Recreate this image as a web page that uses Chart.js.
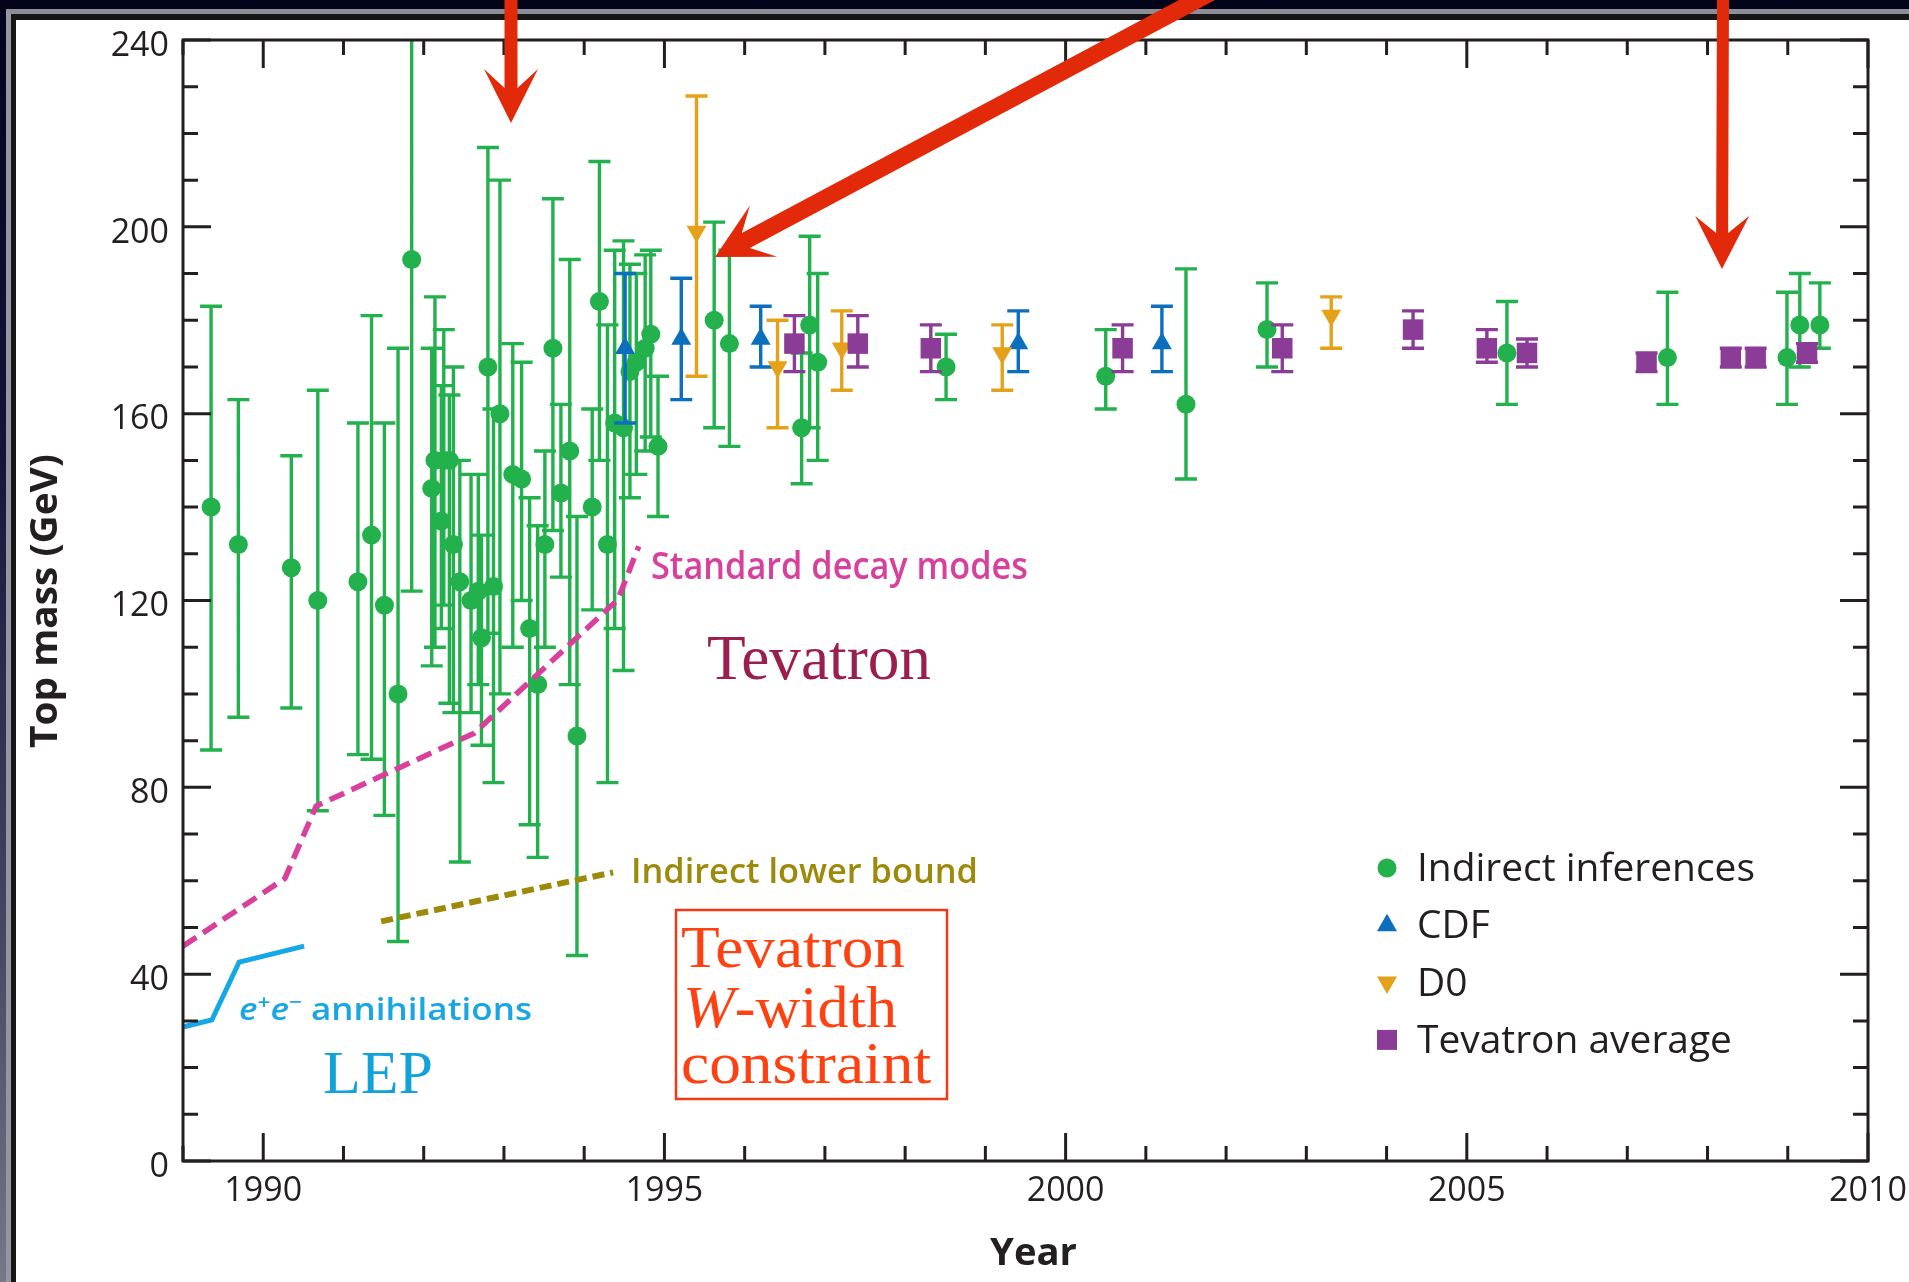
<!DOCTYPE html>
<html>
<head>
<meta charset="utf-8">
<title>Top quark mass vs year</title>
<script src="https://cdn.jsdelivr.net/npm/chart.js@4.4.1/dist/chart.umd.min.js"></script>
<style>
  html, body { margin: 0; padding: 0; }
  body {
    width: 1909px; height: 1282px; overflow: hidden; position: relative;
    background: linear-gradient(to bottom, #03031a 0%, #14143a 35%, #4a4a62 75%, #77778a 100%);
  }
  .frame {
    position: absolute; left: 6px; top: 9px; width: 1903px; height: 1273px; box-sizing: border-box;
    background: #161616; border-top: 5px solid #8e8e98; border-left: 5px solid #9696a2;
  }
  .panel { position: absolute; left: 16px; top: 20px; width: 1893px; height: 1262px; background: #fff; }
  canvas { position: absolute; left: 0; top: 0; }
</style>
</head>
<body>
<div class="frame"></div>
<div class="panel"></div>
<canvas id="topChart" width="1909" height="1282"></canvas>
<script>
// indirect (electroweak fit) inferences: year, central mass, lower and upper error bar ends (GeV)
const indirectYear = [1989.35, 1989.69, 1990.35, 1990.68, 1991.18, 1991.35, 1991.51, 1991.68, 1991.85,
  1992.10, 1992.14, 1992.22, 1992.25, 1992.32, 1992.37, 1992.45, 1992.59, 1992.68, 1992.72, 1992.80, 1992.87, 1992.95,
  1993.11, 1993.22, 1993.32, 1993.42, 1993.51, 1993.61, 1993.71, 1993.82, 1993.91,
  1994.10, 1994.19, 1994.29, 1994.38, 1994.49, 1994.57, 1994.65, 1994.76, 1994.83, 1994.92,
  1995.62, 1995.81, 1996.71, 1996.81, 1996.91, 1998.51, 2000.50, 2001.50, 2002.51, 2005.50, 2007.50, 2008.99, 2009.15, 2009.40];
const indirectMass = [140, 132, 127, 120, 124, 134, 119, 100, 193,
  144, 150, 137, 150, 150, 132, 124, 120, 122, 112, 170, 123, 160,
  147, 146, 114, 102, 132, 174, 143, 152, 91,
  140, 184, 132, 158, 157, 169, 171, 174, 177, 153,
  180, 175, 157, 179, 171, 170, 168, 162, 178, 173, 172, 172, 179, 179];
const indirectLow = [88, 95, 97, 75, 87, 86, 74, 47, 122,
  106, 110, 114, 119, 98, 96, 64, 96, 102, 89, 113, 81, 100,
  110, 120, 72, 65, 110, 135, 125, 102, 44,
  118, 150, 81, 114, 105, 142, 147, 152, 155, 138,
  157, 153, 145, 157, 150, 163, 161, 146, 170, 162, 162, 162, 170, 174];
const indirectHigh = [183, 163, 151, 165, 158, 181, 158, 174, 264,
  174, 185, 166, 178, 164, 170, 150, 147, 147, 134, 217, 161, 210,
  175, 171, 142, 136, 152, 206, 162, 193, 138,
  161, 214, 179, 195, 197, 192, 190, 194, 195, 168,
  201, 195, 173, 198, 190, 177, 178, 191, 188, 184, 186, 186, 190, 188];

// direct measurements
const cdfYear = [1994.51, 1995.21, 1996.20, 1999.41, 2001.20];
const cdfMass = [174, 176, 176, 175, 175];
const cdfLow = [158, 163, 170, 169, 169];
const cdfHigh = [190, 189, 183, 182, 183];

const d0Year = [1995.40, 1996.41, 1997.21, 1999.21, 2003.31];
const d0Mass = [199, 170, 174, 173, 181];
const d0Low = [168, 157, 165, 165, 174];
const d0High = [228, 180, 182, 179, 185];

const avgYear = [1996.62, 1997.41, 1998.32, 2000.71, 2002.70, 2004.33, 2005.25, 2005.75, 2007.24, 2008.29, 2008.60, 2009.24];
const avgMass = [175, 175, 174, 174, 174, 178, 174, 173, 171, 172, 172, 173];
const avgLow = [169, 170, 169, 169, 169, 174, 171, 170, 169, 170, 170, 171];
const avgHigh = [181, 181, 179, 179, 179, 182, 178, 176, 173, 174, 174, 175];

// lower bounds
const decayYear = [1989.0, 1990.27, 1990.66, 1992.63, 1994.42, 1994.68];
const decayMass = [46, 60.5, 76, 91.6, 120.2, 131.6];
const lepYear = [1989.0, 1989.36, 1989.70, 1990.51];
const lepMass = [28.7, 30.2, 42.6, 46.0];
const boundYear = [1991.47, 1994.36];
const boundMass = [51.3, 61.8];

// axes
const yearTicks = [1990, 1995, 2000, 2005, 2010];
const massTicks = [0, 40, 80, 120, 160, 200, 240];
const yearMinorStep = 1;
const massMinorStep = 10;

const green = '#22b14c', blue = '#0b6fbd', orange = '#e5a11a', purple = '#8b3c97';
const ink = '#231f20';

function pts(xs, ys) {
  return xs.map((x, i) => ({ x, y: ys[i] }));
}

// draw text squeezed/stretched to a given width (left edge at x, baseline at y)
function fitText(ctx, text, x, y, font, width, color) {
  ctx.save();
  ctx.font = font;
  ctx.fillStyle = color;
  ctx.textAlign = 'left';
  ctx.textBaseline = 'alphabetic';
  const w = ctx.measureText(text).width;
  ctx.translate(x, y);
  ctx.scale(width / w, 1);
  ctx.fillText(text, 0, 0);
  ctx.restore();
}

// same, for a line made of several differently styled runs
function fitRuns(ctx, runs, x, y, width, color) {
  ctx.save();
  ctx.fillStyle = color;
  ctx.textAlign = 'left';
  ctx.textBaseline = 'alphabetic';
  let total = 0;
  runs.forEach(r => { ctx.font = r.font; r.w = ctx.measureText(r.text).width; total += r.w; });
  ctx.translate(x, y);
  ctx.scale(width / total, 1);
  let cx = 0;
  runs.forEach(r => { ctx.font = r.font; ctx.fillText(r.text, cx, r.dy || 0); cx += r.w; });
  ctx.restore();
}

// filled arrow with a swept-back head
function arrow(ctx, tail, tip, shaft, headLen, headW, notch) {
  const dx = tip[0] - tail[0], dy = tip[1] - tail[1];
  const len = Math.hypot(dx, dy);
  const ux = dx / len, uy = dy / len, nx = -uy, ny = ux;
  const at = (d, s) => [tip[0] - ux * d + nx * s, tip[1] - uy * d + ny * s];
  const outline = [
    [tail[0] + nx * shaft / 2, tail[1] + ny * shaft / 2],
    at(notch, shaft / 2), at(headLen, headW / 2), tip,
    at(headLen, -headW / 2), at(notch, -shaft / 2),
    [tail[0] - nx * shaft / 2, tail[1] - ny * shaft / 2]
  ];
  ctx.beginPath();
  outline.forEach((p, i) => i ? ctx.lineTo(p[0], p[1]) : ctx.moveTo(p[0], p[1]));
  ctx.closePath();
  ctx.fill();
}

function legendMarker(ctx, shape, x, y, color) {
  ctx.fillStyle = color;
  ctx.beginPath();
  if (shape === 'circle') {
    ctx.arc(x, y, 9.5, 0, Math.PI * 2);
  } else if (shape === 'rect') {
    ctx.rect(x - 10, y - 10, 20, 20);
  } else if (shape === 'up') {
    ctx.moveTo(x, y - 11.5); ctx.lineTo(x + 10, y + 6); ctx.lineTo(x - 10, y + 6);
  } else {
    ctx.moveTo(x, y + 11.5); ctx.lineTo(x + 10, y - 6); ctx.lineTo(x - 10, y - 6);
  }
  ctx.fill();
}

// vertical error bars with caps, drawn just before each dataset's markers
const errorBars = {
  id: 'errorBars',
  beforeDatasetDraw(chart, args) {
    const ds = chart.data.datasets[args.index];
    if (!ds.errLow) return;
    const { ctx, chartArea: a, scales: { x, y } } = chart;
    ctx.save();
    ctx.beginPath();
    ctx.rect(a.left, a.top, a.right - a.left, a.bottom - a.top);
    ctx.clip();
    ctx.strokeStyle = ds.backgroundColor;
    ctx.lineWidth = 3.4;
    ctx.beginPath();
    ds.data.forEach((p, i) => {
      const px = x.getPixelForValue(p.x);
      const lo = y.getPixelForValue(ds.errLow[i]);
      const hi = y.getPixelForValue(ds.errHigh[i]);
      ctx.moveTo(px, lo); ctx.lineTo(px, hi);
      ctx.moveTo(px - 11, lo); ctx.lineTo(px + 11, lo);
      ctx.moveTo(px - 11, hi); ctx.lineTo(px + 11, hi);
    });
    ctx.stroke();
    ctx.restore();
  }
};

// boxed frame with inward major/minor ticks on all four sides
const frameTicks = {
  id: 'frameTicks',
  afterDatasetsDraw(chart) {
    const { ctx, chartArea: a, scales: { x, y } } = chart;
    ctx.save();
    ctx.strokeStyle = ink;
    ctx.lineWidth = 3;
    ctx.beginPath();
    for (let v = y.min; v <= y.max; v += massMinorStep) {
      const py = y.getPixelForValue(v);
      const len = massTicks.includes(v) ? 28 : 15;
      ctx.moveTo(a.left, py); ctx.lineTo(a.left + len, py);
      ctx.moveTo(a.right, py); ctx.lineTo(a.right - len, py);
    }
    for (let v = Math.ceil(x.min); v <= x.max; v += yearMinorStep) {
      const px = x.getPixelForValue(v);
      const len = yearTicks.includes(v) ? 28 : 15;
      ctx.moveTo(px, a.bottom); ctx.lineTo(px, a.bottom - len);
      ctx.moveTo(px, a.top); ctx.lineTo(px, a.top + len);
    }
    ctx.stroke();
    ctx.strokeRect(a.left, a.top, a.right - a.left, a.bottom - a.top);
    ctx.restore();
  }
};

// labels, legend, boxed note, axis titles and the red pointers
const notes = {
  id: 'notes',
  afterDraw(chart) {
    const ctx = chart.ctx;
    const sans = '"Open Sans", "DejaVu Sans", sans-serif';
    const serif = '"Liberation Serif", "DejaVu Serif", serif';

    fitText(ctx, 'Standard decay modes', 651, 579, '600 37px ' + sans, 377, '#d8409b');
    fitText(ctx, 'Tevatron', 707, 679, '63px ' + serif, 224, '#9a1f4e');
    fitText(ctx, 'Indirect lower bound', 631, 883, '600 34px ' + sans, 347, '#9e8a0a');

    fitRuns(ctx, [
      { text: 'e', font: 'italic 600 31px ' + sans },
      { text: '+', font: '600 20px ' + sans, dy: -11 },
      { text: 'e', font: 'italic 600 31px ' + sans },
      { text: '\u2212', font: '600 20px ' + sans, dy: -11 },
      { text: ' annihilations', font: '600 31px ' + sans }
    ], 239, 1020, 293, '#1aa6e2');
    fitText(ctx, 'LEP', 323, 1093, '62px ' + serif, 110, '#12a2da');

    // W-width constraint note
    ctx.save();
    ctx.strokeStyle = '#ee3a16';
    ctx.lineWidth = 2.5;
    ctx.strokeRect(676, 910, 271, 189);
    ctx.restore();
    const red = '#ff4112';
    fitText(ctx, 'Tevatron', 681, 967, '60px ' + serif, 224, red);
    fitRuns(ctx, [
      { text: 'W', font: 'italic 60px ' + serif },
      { text: '-width', font: '60px ' + serif }
    ], 683, 1027, 214, red);
    fitText(ctx, 'constraint', 681, 1083, '60px ' + serif, 250, red);

    // legend built from the data series
    const legendFont = '39px ' + sans;
    ctx.save();
    ctx.font = legendFont;
    const squeeze = 338 / ctx.measureText(chart.data.datasets[0].label).width;
    ctx.restore();
    chart.data.datasets.filter(d => d.legendShape).forEach((d, i) => {
      const base = 881 + i * 57.3;
      legendMarker(ctx, d.legendShape, 1387, base - 13, d.backgroundColor);
      ctx.save();
      ctx.font = legendFont;
      const w = ctx.measureText(d.label).width * squeeze;
      ctx.restore();
      fitText(ctx, d.label, 1417, base, legendFont, w, ink);
    });

    // axis titles
    fitText(ctx, 'Year', 990, 1265, 'bold 37px ' + sans, 87, ink);
    ctx.save();
    ctx.translate(57, 748);
    ctx.rotate(-Math.PI / 2);
    fitText(ctx, 'Top mass (GeV)', 0, 0, 'bold 37px ' + sans, 294, ink);
    ctx.restore();

    // red pointers
    ctx.save();
    ctx.fillStyle = '#e22a0a';
    arrow(ctx, [511, -6], [511, 123], 13, 54, 54, 35);
    arrow(ctx, [1212, -8], [715, 257], 17, 55, 58, 35);
    arrow(ctx, [1723, -6], [1722, 269], 12, 53, 54, 36);
    ctx.restore();
  }
};

const errSeries = (label, xs, ys, lo, hi, color, style, rotation, radius, shape, order) => ({
  type: 'scatter',
  label,
  data: pts(xs, ys),
  errLow: lo,
  errHigh: hi,
  backgroundColor: color,
  borderColor: color,
  pointStyle: style,
  rotation,
  pointRadius: radius,
  pointBorderWidth: 0,
  legendShape: shape,
  order
});

const lineSeries = (xs, ys, color, width, dash) => ({
  type: 'line',
  data: pts(xs, ys),
  borderColor: color,
  borderWidth: width,
  borderDash: dash,
  borderCapStyle: 'butt',
  pointRadius: 0,
  fill: false,
  tension: 0,
  order: 1
});

// keep the plot box exactly where the layout padding puts it
const noEdgePadding = s => {
  s.paddingLeft = 0; s.paddingRight = 0; s.paddingTop = 0; s.paddingBottom = 0;
};

new Chart(document.getElementById('topChart'), {
  type: 'scatter',
  data: {
    datasets: [
      errSeries('Indirect inferences', indirectYear, indirectMass, indirectLow, indirectHigh, green, 'circle', 0, 9.5, 'circle', 5),
      errSeries('CDF', cdfYear, cdfMass, cdfLow, cdfHigh, blue, 'triangle', 0, 11.5, 'up', 4),
      errSeries('D0', d0Year, d0Mass, d0Low, d0High, orange, 'triangle', 180, 11.5, 'down', 3),
      errSeries('Tevatron average', avgYear, avgMass, avgLow, avgHigh, purple, 'rect', 0, 14.5, 'rect', 2),
      lineSeries(decayYear, decayMass, '#d8409b', 5.5, [16, 8]),
      lineSeries(boundYear, boundMass, '#9e8a0a', 6, [12, 6]),
      lineSeries(lepYear, lepMass, '#14a8e6', 5, [])
    ]
  },
  options: {
    responsive: false,
    devicePixelRatio: 1,
    animation: false,
    events: [],
    layout: { padding: { left: 0, top: 40, right: 41, bottom: 0 } },
    plugins: { legend: { display: false }, tooltip: { enabled: false } },
    scales: {
      x: {
        type: 'linear',
        min: 1989,
        max: 2010,
        grid: { display: false, drawTicks: false },
        border: { display: false },
        afterBuildTicks: s => { s.ticks = yearTicks.map(v => ({ value: v })); },
        afterFit: s => { s.height = 121; noEdgePadding(s); },
        ticks: {
          font: { family: 'Open Sans', size: 34 },
          color: ink,
          padding: 10,
          maxRotation: 0,
          autoSkip: false,
          callback: v => String(v)
        }
      },
      y: {
        min: 0,
        max: 240,
        grid: { display: false, drawTicks: false },
        border: { display: false },
        afterBuildTicks: s => { s.ticks = massTicks.map(v => ({ value: v })); },
        afterFit: s => { s.width = 183; noEdgePadding(s); },
        ticks: {
          font: { family: 'Open Sans', size: 34 },
          color: ink,
          padding: 14,
          labelOffset: 6,
          callback: v => String(v)
        }
      }
    }
  },
  plugins: [errorBars, frameTicks, notes]
});
</script>
</body>
</html>
